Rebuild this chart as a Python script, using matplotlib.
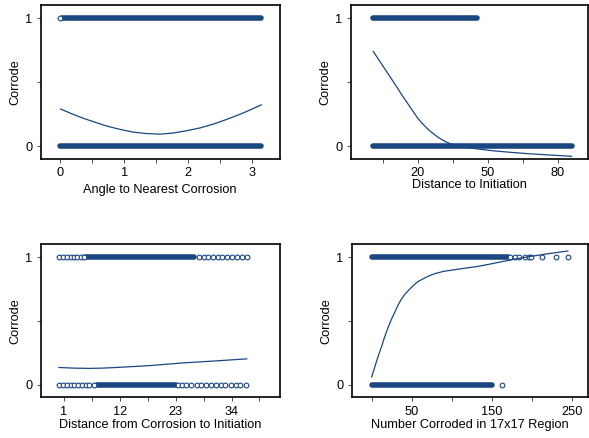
import numpy as np
import matplotlib
matplotlib.use('Agg')
import matplotlib.pyplot as plt

plt.rcParams['font.family'] = ['Liberation Sans', 'DejaVu Sans']
plt.rcParams['font.size'] = 9.2

NAVY = '#1a4682'

# ---- panel 1: angle to nearest corrosion ----
angle_band1 = [0.03, 3.15]        # dense run of points with corrode = 1
angle_band0 = [0.0, 3.15]         # dense run with corrode = 0
angle_pts1 = [0.0]
angle_pts0 = []
angle_fit_x = [0.0, 0.18, 0.36, 0.55, 0.73, 0.93, 1.14, 1.35, 1.56, 1.77,
               1.98, 2.19, 2.40, 2.61, 2.82, 2.98, 3.15]
angle_fit_y = [0.291, 0.253, 0.218, 0.186, 0.157, 0.132, 0.110, 0.099, 0.094,
               0.103, 0.121, 0.143, 0.173, 0.210, 0.250, 0.285, 0.323]

# ---- panel 2: distance to initiation ----
dist_band1 = [1, 45.5]
dist_band0 = [1, 86]
dist_pts1 = []
dist_pts0 = []
dist_fit_x = [1, 3, 5, 7, 9, 11.5, 14, 17, 20, 22, 24, 25.8, 27.5, 29.2, 31,
              32.5, 34, 36.5, 39, 42.5, 46, 53, 60, 67, 75, 86]
dist_fit_y = [0.74, 0.685, 0.63, 0.575, 0.52, 0.45, 0.38, 0.30, 0.22, 0.178,
              0.14, 0.112, 0.087, 0.064, 0.045, 0.031, 0.02, 0.006, -0.005,
              -0.014, -0.022, -0.037, -0.048, -0.058, -0.067, -0.079]

# ---- panel 3: distance from corrosion to initiation ----
dci_band1 = [5.1, 26.7]
dci_band0 = [7.5, 23.0]
dci_pts1 = [0.0, 0.8, 1.6, 2.3, 2.9, 3.6, 4.4, 4.9,
            27.5, 28.5, 29.3, 30.3, 31.3, 32.2, 33.2, 34.1, 35.0, 36.0, 37.0]
dci_pts0 = [0.0, 0.8, 1.5, 2.3, 2.9, 3.7, 4.6, 5.4, 6.0, 7.0,
            23.4, 24.3, 25.1, 26.1, 27.1, 28.0, 29.0, 29.9, 30.9, 31.9,
            32.8, 33.8, 34.8, 35.7, 36.9]
dci_fit_x = [0.0, 3.0, 6.0, 8.5, 11.3, 14.5, 17.9, 21.0, 24.4, 27.7, 31.0,
             34.0, 37.0]
dci_fit_y = [0.134, 0.129, 0.127, 0.129, 0.134, 0.141, 0.149, 0.159, 0.170,
             0.178, 0.186, 0.194, 0.202]

# ---- panel 4: number corroded in 17x17 region ----
num_band1 = [0, 170]
num_band0 = [0, 150]
num_pts1 = [173, 179, 184, 191, 196, 199, 212.5, 230, 245]
num_pts0 = [162.5]
num_fit_x = [0, 2.5, 5, 8.5, 12.5, 16, 20, 24.5, 29, 33, 37, 41.5, 46, 50,
             54, 58, 62.5, 70, 79, 90, 104, 118, 133, 148, 162, 178, 196,
             220, 245]
num_fit_y = [0.06, 0.11, 0.16, 0.23, 0.30, 0.37, 0.44, 0.51, 0.57, 0.625,
             0.67, 0.71, 0.74, 0.765, 0.79, 0.81, 0.825, 0.85, 0.872, 0.89,
             0.903, 0.916, 0.929, 0.947, 0.965, 0.985, 1.005, 1.028, 1.05]

panels = [
    dict(pos=[0.069, 0.637, 0.406, 0.352], xlim=(-0.31, 3.44),
         major=[0, 1, 2, 3], minor=[0.5, 1.5, 2.5],
         label='Angle to Nearest Corrosion', lpad=3.5,
         b1=angle_band1, b0=angle_band0, p1=angle_pts1, p0=angle_pts0,
         fx=angle_fit_x, fy=angle_fit_y),
    dict(pos=[0.5954, 0.637, 0.4026, 0.352], xlim=(-8.7, 93),
         major=[20, 50, 80], minor=[5, 35, 65],
         label='Distance to Initiation', lpad=0.0,
         b1=dist_band1, b0=dist_band0, p1=dist_pts1, p0=dist_pts0,
         fx=dist_fit_x, fy=dist_fit_y),
    dict(pos=[0.069, 0.093, 0.406, 0.350], xlim=(-3.6, 43.5),
         major=[1, 12, 23, 34], minor=[6.5, 17.5, 28.5, 39.5],
         label='Distance from Corrosion to Initiation', lpad=1.0,
         b1=dci_band1, b0=dci_band0, p1=dci_pts1, p0=dci_pts0,
         fx=dci_fit_x, fy=dci_fit_y),
    dict(pos=[0.597, 0.093, 0.401, 0.350], xlim=(-25, 270),
         major=[50, 150, 250], minor=[0, 100, 200],
         label='Number Corroded in 17x17 Region', lpad=1.0,
         b1=num_band1, b0=num_band0, p1=num_pts1, p0=num_pts0,
         fx=num_fit_x, fy=num_fit_y),
]

fig = plt.figure(figsize=(5.89, 4.38), dpi=100)

for p in panels:
    ax = fig.add_axes(p['pos'])
    # dense runs of overlapping circles
    ax.plot(p['b1'], [1, 1], color=NAVY, lw=4.0, solid_capstyle='round')
    ax.plot(p['b0'], [0, 0], color=NAVY, lw=4.0, solid_capstyle='round')
    # isolated circles
    ax.plot(p['p1'], [1] * len(p['p1']), 'o', mfc='white', mec=NAVY,
            ms=3.4, mew=0.8, ls='none')
    ax.plot(p['p0'], [0] * len(p['p0']), 'o', mfc='white', mec=NAVY,
            ms=3.4, mew=0.8, ls='none')
    # fitted curve
    ax.plot(p['fx'], p['fy'], color=NAVY, lw=0.9)

    ax.set_xlim(p['xlim'])
    ax.set_ylim(-0.10, 1.105)
    ax.set_xticks(p['major'])
    ax.set_xticks(p['minor'], minor=True)
    ax.set_yticks([0, 1])
    ax.set_yticks([0.5], minor=True)
    ax.tick_params(which='both', direction='out', length=3, width=0.6,
                   color='#333333', pad=3, labelsize=9.2)
    for s in ax.spines.values():
        s.set_linewidth(1.2)
        s.set_color('black')
    ax.set_xlabel(p['label'], labelpad=p['lpad'])
    ax.set_ylabel('Corrode', labelpad=3)

fig.savefig('out.png', dpi=100)
